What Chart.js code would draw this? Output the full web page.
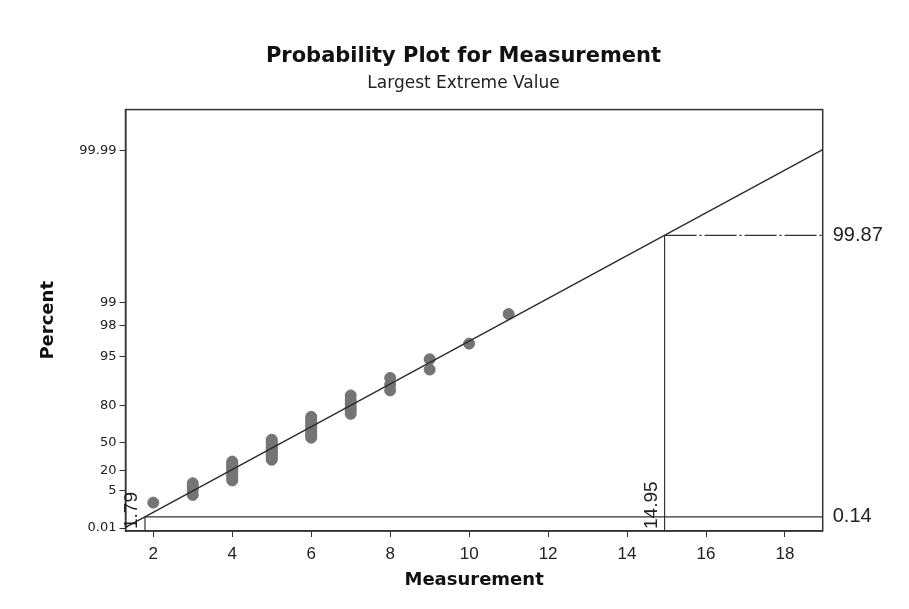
<!DOCTYPE html>
<html>
<head>
<meta charset="utf-8">
<script src="https://cdn.jsdelivr.net/npm/chart.js@4.4.0/dist/chart.umd.min.js"></script>
<style>
    body { margin: 0; background: #fff; }
</style>
</head>
<body>
<canvas id="myChart" width="909" height="609"></canvas>
<script>
// Данные
const measurement = [
    2,
    3, 3, 3, 3,
    4, 4, 4, 4, 4, 4, 4, 4, 4, 4,
    5, 5, 5, 5, 5, 5, 5, 5, 5, 5, 5, 5,
    6, 6, 6, 6, 6, 6, 6, 6, 6, 6,
    7, 7, 7, 7, 7, 7,
    8, 8, 8,
    9, 9,
    10,
    11
];
const percent = [
    1.4,
    3.4, 5.4, 7.3, 9.3,
    11.3, 13.3, 15.3, 17.3, 19.2, 21.2, 23.2, 25.2, 27.2, 29.2,
    31.2, 33.1, 35.1, 37.1, 39.1, 41.1, 43.1, 45.0, 47.0, 49.0, 51.0, 53.0,
    55.0, 56.9, 58.9, 60.9, 62.9, 64.9, 66.9, 68.8, 70.8, 72.8,
    74.8, 76.8, 78.8, 80.8, 82.7, 84.7,
    86.7, 88.7, 90.7,
    92.7, 94.6,
    96.6,
    98.6
];

// Линия подгонки (концы у краёв графика)
const fitX = [1.296, 18.955];
const fitPercent = [0.0117, 99.9903];

// Опорные линии
const lowX = 1.79;
const lowPercent = 0.14;
const highX = 14.95;
const highPercent = 99.87;

// Подписи осей
const xTicks = [2, 4, 6, 8, 10, 12, 14, 16, 18];
const yTickPercent = [0.01, 5, 20, 50, 80, 95, 98, 99, 99.99];
const yTickLabels = ['0.01', '5', '20', '50', '80', '95', '98', '99', '99.99'];

// Пределы осей
const xMin = 1.296, xMax = 18.955;
const yMinT = -2.311, yMaxT = 10.453;

// Шкала наибольшего экстремального значения
function gumbel(p) {
    return -Math.log(-Math.log(p / 100));
}

const points = measurement.map((x, i) => ({ x: x, y: gumbel(percent[i]) }));
const fitLine = fitX.map((x, i) => ({ x: x, y: gumbel(fitPercent[i]) }));

const refLabels = {
    id: 'refLabels',
    beforeDraw(chart) {
        const ctx = chart.ctx;
        ctx.save();
        ctx.fillStyle = '#fff';
        ctx.fillRect(0, 0, chart.width, chart.height);
        ctx.restore();
    },
    afterDraw(chart) {
        const ctx = chart.ctx;
        const a = chart.chartArea;
        const sx = chart.scales.x;
        const sy = chart.scales.y;
        ctx.save();
        ctx.strokeStyle = '#333';
        ctx.lineWidth = 1.5;
        ctx.strokeRect(a.left, a.top, a.right - a.left, a.bottom - a.top);

        ctx.fillStyle = '#222';
        ctx.font = '20px "Liberation Sans"';
        ctx.textAlign = 'left';
        ctx.textBaseline = 'middle';
        ctx.fillText(String(highPercent), a.right + 10, sy.getPixelForValue(gumbel(highPercent)));
        ctx.fillText(String(lowPercent), a.right + 10, sy.getPixelForValue(gumbel(lowPercent)));

        // повернутые подписи у вертикальных линий
        ctx.font = '19px "Liberation Sans"';
        ctx.textBaseline = 'alphabetic';
        [lowX, highX].forEach((v) => {
            ctx.save();
            ctx.translate(sx.getPixelForValue(v) - 8, a.bottom - 2);
            ctx.rotate(-Math.PI / 2);
            ctx.fillText(String(v), 0, 0);
            ctx.restore();
        });
        ctx.restore();
    }
};

const lineStyle = {
    showLine: true,
    pointRadius: 0,
    borderColor: '#333',
    borderWidth: 1.2,
    fill: false
};

const ctx = document.getElementById('myChart').getContext('2d');
window.chart = new Chart(ctx, {
    type: 'scatter',
    data: {
        datasets: [
            {
                data: fitLine,
                showLine: true,
                pointRadius: 0,
                borderColor: '#2a2a2a',
                borderWidth: 1.4,
                order: 0
            },
            Object.assign({
                data: [{ x: lowX, y: gumbel(lowPercent) }, { x: xMax, y: gumbel(lowPercent) }],
                order: 1
            }, lineStyle),
            Object.assign({
                data: [{ x: lowX, y: gumbel(lowPercent) }, { x: lowX, y: yMinT }],
                order: 1
            }, lineStyle),
            Object.assign({
                data: [{ x: highX, y: gumbel(highPercent) }, { x: xMax, y: gumbel(highPercent) }],
                borderDash: [32, 3, 2, 3],
                order: 1
            }, lineStyle),
            Object.assign({
                data: [{ x: highX, y: gumbel(highPercent) }, { x: highX, y: yMinT }],
                order: 1
            }, lineStyle),
            {
                data: points,
                pointRadius: 5.5,
                pointBackgroundColor: '#747474',
                pointBorderColor: '#747474',
                pointBorderWidth: 1,
                order: 2
            }
        ]
    },
    options: {
        responsive: false,
        animation: false,
        layout: {
            padding: { left: 18, right: 0, top: 0, bottom: 0 }
        },
        plugins: {
            legend: { display: false },
            tooltip: { enabled: false },
            title: {
                display: true,
                text: 'Probability Plot for Measurement',
                color: '#111',
                font: { family: 'DejaVu Sans', size: 21, weight: 'bold' },
                padding: { top: 44, bottom: 4 }
            },
            subtitle: {
                display: true,
                text: 'Largest Extreme Value',
                color: '#222',
                font: { family: 'DejaVu Sans', size: 17 },
                padding: { top: 0, bottom: 16 }
            }
        },
        scales: {
            x: {
                type: 'linear',
                min: xMin,
                max: xMax,
                afterBuildTicks: (scale) => {
                    scale.ticks = xTicks.map((v) => ({ value: v }));
                },
                afterFit: (scale) => {
                    scale.height = 78;
                },
                ticks: {
                    color: '#222',
                    font: { family: 'Liberation Sans', size: 17 },
                    padding: 7,
                    maxRotation: 0
                },
                grid: {
                    drawOnChartArea: false,
                    tickLength: 6,
                    color: '#333'
                },
                border: { color: '#333', width: 1.5 },
                title: {
                    display: true,
                    text: 'Measurement',
                    color: '#111',
                    font: { family: 'DejaVu Sans', size: 18, weight: 'bold' },
                    padding: { top: 0, bottom: 18 }
                }
            },
            y: {
                type: 'linear',
                min: yMinT,
                max: yMaxT,
                afterBuildTicks: (scale) => {
                    scale.ticks = yTickPercent.map((p) => ({ value: gumbel(p) }));
                },
                afterFit: (scale) => {
                    scale.width = 107.5;
                },
                ticks: {
                    color: '#222',
                    font: { family: 'DejaVu Sans', size: 13 },
                    padding: 3,
                    callback: (value, index) => yTickLabels[index]
                },
                grid: {
                    drawOnChartArea: false,
                    tickLength: 6,
                    color: '#333'
                },
                border: { color: '#333', width: 1.5 },
                title: {
                    display: true,
                    text: 'Percent',
                    color: '#111',
                    font: { family: 'DejaVu Sans', size: 18, weight: 'bold' },
                    padding: { top: 20, bottom: 0 }
                }
            },
            yr: {
                type: 'linear',
                position: 'right',
                min: 0,
                max: 1,
                ticks: { display: false },
                grid: { display: false },
                border: { display: false },
                afterFit: (scale) => {
                    scale.width = 86.3;
                }
            }
        }
    },
    plugins: [refLabels]
});
</script>
</body>
</html>
